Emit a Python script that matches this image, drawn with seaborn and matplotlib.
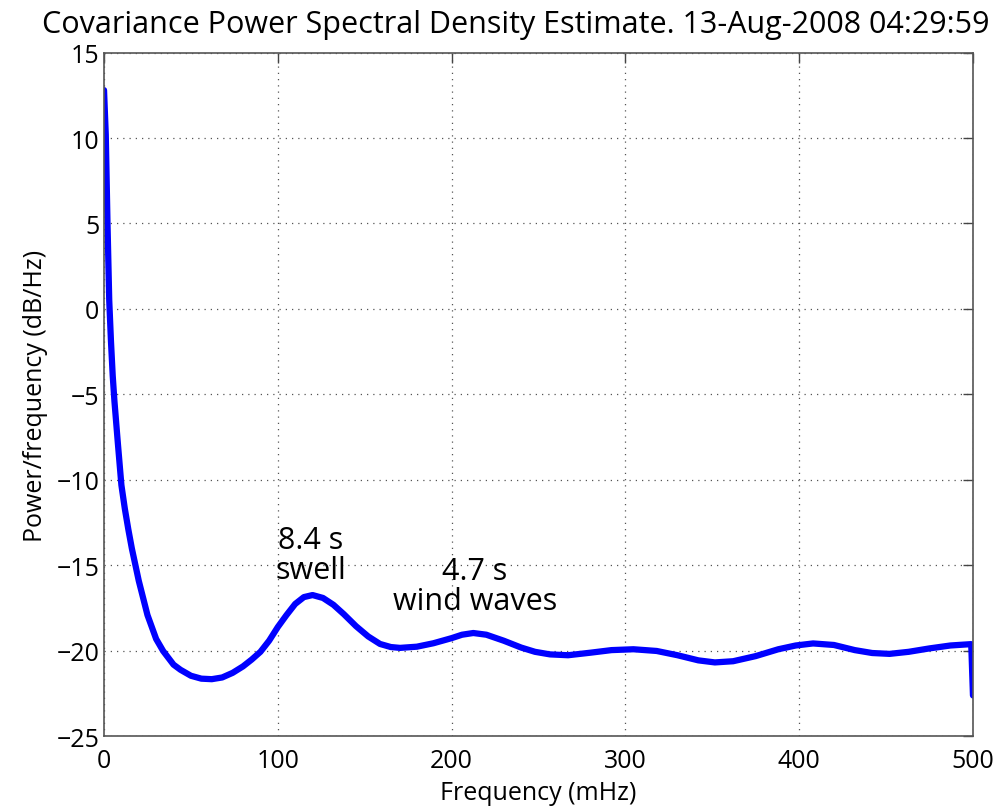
import seaborn as sns
import matplotlib.pyplot as plt
import pandas as pd

# frequency (mHz) and PSD (dB/Hz)
freq = [0, 1, 2, 3, 4, 5, 6, 8, 10, 12, 14, 16, 20, 25, 30, 34, 40, 44, 50, 56, 62,
        68, 74, 80, 85, 90, 95, 100, 105, 110, 115, 120, 126, 132, 138, 145, 152, 158.8,
        165, 170.3, 180, 189.5, 200, 206, 212.5, 220, 230, 240, 248, 256.6, 267, 280,
        292, 304.6, 318, 330, 342, 351.5, 362, 375, 388, 398, 408, 420, 432, 442, 452,
        463, 475, 487, 499, 500]
psd = [12.8, 10.2, 5.0, 0.5, -1.9, -3.9, -5.4, -7.9, -10.3, -11.7, -12.9, -14.0, -15.9,
       -17.9, -19.3, -20.0, -20.8, -21.1, -21.45, -21.62, -21.65, -21.55, -21.28, -20.9,
       -20.5, -20.05, -19.4, -18.6, -17.9, -17.25, -16.85, -16.73, -16.9, -17.3, -17.85,
       -18.55, -19.15, -19.59, -19.77, -19.82, -19.75, -19.55, -19.25, -19.05, -18.95,
       -19.05, -19.4, -19.8, -20.05, -20.2, -20.25, -20.1, -19.95, -19.9, -20.0, -20.25,
       -20.55, -20.67, -20.6, -20.3, -19.9, -19.68, -19.56, -19.65, -19.95, -20.12,
       -20.17, -20.05, -19.85, -19.68, -19.6, -22.6]

labels = ["8.4 s\nswell", "4.7 s\nwind waves"]
label_x = [119.0, 213.5]
label_y = [-14.4, -16.2]

df = pd.DataFrame({"freq": freq, "psd": psd})

sns.set_style("white")
plt.rcParams["font.family"] = ["Open Sans", "DejaVu Sans"]
plt.rcParams["text.color"] = "black"
plt.rcParams["axes.labelcolor"] = "black"

fig = plt.figure(figsize=(10.07, 8.12), dpi=100)
ax = fig.add_axes([0.1033, 0.0918, 0.8629, 0.8423])

sns.lineplot(data=df, x="freq", y="psd", color="#0000ff", linewidth=4.5, ax=ax)

for txt, tx, ty in zip(labels, label_x, label_y):
    ax.text(tx, ty, txt, fontsize=22, ha="center", va="center",
            linespacing=1.0, color="black")

ax.set_xlim(0, 500)
ax.set_ylim(-25, 15)
ax.set_xticks(range(0, 501, 100))
ax.set_yticks(range(-25, 16, 5))
ax.set_yticklabels([str(v).replace("-", "\u2212") for v in range(-25, 16, 5)])
ax.grid(True, linestyle=(0, (1, 4)), color="#555555", linewidth=0.9)
ax.tick_params(direction="in", length=7, width=1, top=True, right=True,
               labelsize=18, colors="#444444", labelcolor="black")
ax.tick_params(axis="x", pad=8)
for s in ax.spines.values():
    s.set_color("#555555")
    s.set_linewidth(1.2)

ax.set_xlabel("Frequency (mHz)", fontsize=18, labelpad=5)
ax.set_ylabel("Power/frequency (dB/Hz)", fontsize=18, labelpad=6)
ax.set_title("Covariance Power Spectral Density Estimate. 13-Aug-2008 04:29:59",
             fontsize=22, pad=15, x=0.474, color="black")

fig.savefig("out.png", dpi=100)
